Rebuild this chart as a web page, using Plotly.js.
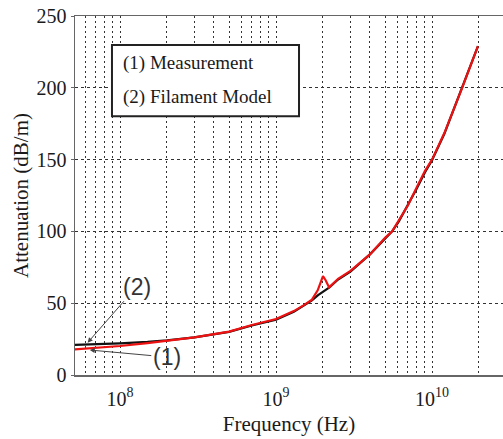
<!DOCTYPE html>
<html>
<head>
<meta charset="utf-8">
<script src="https://cdn.plot.ly/plotly-3.0.1.min.js"></script>
<style>html,body{margin:0;padding:0;background:#fff;}#chart{width:503px;height:439px;}</style>
</head>
<body>
<div id="chart"></div>
<script>
// Filament model (black)
var modelFreq = [5e7, 7e7, 1e8, 1.5e8, 2e8, 3e8, 5e8, 7e8, 1e9, 1.3e9, 1.5e9, 1.7e9, 1.86e9, 2.2e9, 2.5e9, 3e9, 4e9, 5e9, 5.55e9, 6.13e9, 7e9, 8e9, 9e9, 1e10, 1.2e10, 1.56e10, 1.97e10];
var modelAtt  = [20.9, 21.3, 22.0, 23.0, 24.1, 26.2, 30.0, 34.5, 38.5, 44.0, 48.0, 52.0, 55.6, 61.0, 66.5, 72.0, 84.0, 95.0, 100.0, 107.0, 118.0, 130.0, 141.0, 149.5, 168.0, 200.0, 229.0];
// Measurement (red)
var measFreq = [5e7, 7e7, 1e8, 1.5e8, 2e8, 3e8, 5e8, 7e8, 1e9, 1.3e9, 1.5e9, 1.7e9, 1.85e9, 2.0e9, 2.08e9, 2.19e9, 2.5e9, 3e9, 4e9, 5e9, 5.55e9, 6.13e9, 7e9, 8e9, 8.6e9, 9e9, 1e10, 1.2e10, 1.56e10, 1.97e10];
var measAtt  = [17.8, 18.9, 20.2, 22.2, 23.8, 26.2, 30.2, 34.8, 39.0, 44.5, 48.5, 52.5, 59.0, 68.8, 66.0, 61.0, 67.0, 72.5, 84.0, 95.5, 100.0, 107.5, 118.0, 131.0, 138.0, 142.0, 150.0, 168.5, 200.0, 229.0];
// Tick labels / grid positions
var xGridVals = [6e7,7e7,8e7,9e7,1e8,2e8,3e8,4e8,5e8,6e8,7e8,8e8,9e8,1e9,2e9,3e9,4e9,5e9,6e9,7e9,8e9,9e9,1e10,2e10];
var xGridText = xGridVals.map(function(v){
  if (v === 1e8) return '10<sup>8</sup>';
  if (v === 1e9) return '10<sup>9</sup>';
  if (v === 1e10) return '10<sup>10</sup>';
  return '';
});
var yTickVals = [0, 50, 100, 150, 200, 250];
var legendLines = ['(1) Measurement', '(2) Filament Model'];

var serif = '"Liberation Serif", "Times New Roman", Times, serif';
var sans = '"Liberation Sans", Arial, sans-serif';

var traces = [
  {x: modelFreq, y: modelAtt, type: 'scatter', mode: 'lines', line: {color: '#111', width: 2.2}, hoverinfo: 'skip'},
  {x: measFreq, y: measAtt, type: 'scatter', mode: 'lines', line: {color: '#ee1111', width: 2.2}, hoverinfo: 'skip'}
];

var layout = {
  width: 503, height: 439,
  margin: {l: 75, r: 0, t: 16, b: 64},
  paper_bgcolor: '#fff', plot_bgcolor: '#fff',
  showlegend: false,
  font: {family: serif, color: '#1a1a1a'},
  xaxis: {
    type: 'log',
    range: [7.7115, 10.455],
    tickmode: 'array', tickvals: xGridVals, ticktext: xGridText, tickangle: 0,
    ticklabelstandoff: 5,
    showgrid: true, gridcolor: '#333', griddash: '2px,3px', gridwidth: 1,
    showline: true, linecolor: '#666', linewidth: 1.5, mirror: true,
    ticks: '', zeroline: false,
    tickfont: {family: serif, size: 20, color: '#1a1a1a'},
    title: {text: 'Frequency (Hz)', font: {family: serif, size: 21, color: '#1a1a1a'}, standoff: 8}
  },
  yaxis: {
    range: [0, 250],
    tickmode: 'array', tickvals: yTickVals,
    showgrid: true, gridcolor: '#333', griddash: '3px,3px', gridwidth: 1,
    showline: true, linecolor: '#666', linewidth: 1.5, mirror: false,
    ticks: 'outside', ticklen: 3, tickcolor: '#666', zeroline: false,
    tickfont: {family: serif, size: 20, color: '#1a1a1a'},
    title: {text: 'Attenuation (dB/m)', font: {family: serif, size: 21, color: '#1a1a1a'}, standoff: 2}
  },
  shapes: [
    {type: 'rect', xref: 'paper', yref: 'paper', x0: 0.0864, x1: 0.5234, y0: 0.721, y1: 0.919,
     line: {color: '#222', width: 2}, fillcolor: '#fff', layer: 'above'}
  ],
  annotations: [
    {xref: 'paper', yref: 'paper', x: 0.108, y: 0.869, xanchor: 'left', yanchor: 'middle', showarrow: false,
     text: legendLines[0], font: {family: serif, size: 19, color: '#1a1a1a'}},
    {xref: 'paper', yref: 'paper', x: 0.108, y: 0.774, xanchor: 'left', yanchor: 'middle', showarrow: false,
     text: legendLines[1], font: {family: serif, size: 19, color: '#1a1a1a'}},
    {x: Math.log10(6.2e7), y: 22.5, text: '(2)', showarrow: true, ax: 49, ay: -56,
     arrowhead: 2, arrowsize: 1, arrowwidth: 1, arrowcolor: '#444',
     font: {family: sans, size: 23, color: '#333'}},
    {x: Math.log10(6.4e7), y: 17.4, text: '(1)', showarrow: true, ax: 77, ay: 7,
     arrowhead: 2, arrowsize: 1, arrowwidth: 1, arrowcolor: '#444',
     font: {family: sans, size: 23, color: '#333'}}
  ]
};

Plotly.newPlot('chart', traces, layout, {displayModeBar: false, staticPlot: true});
</script>
</body>
</html>
